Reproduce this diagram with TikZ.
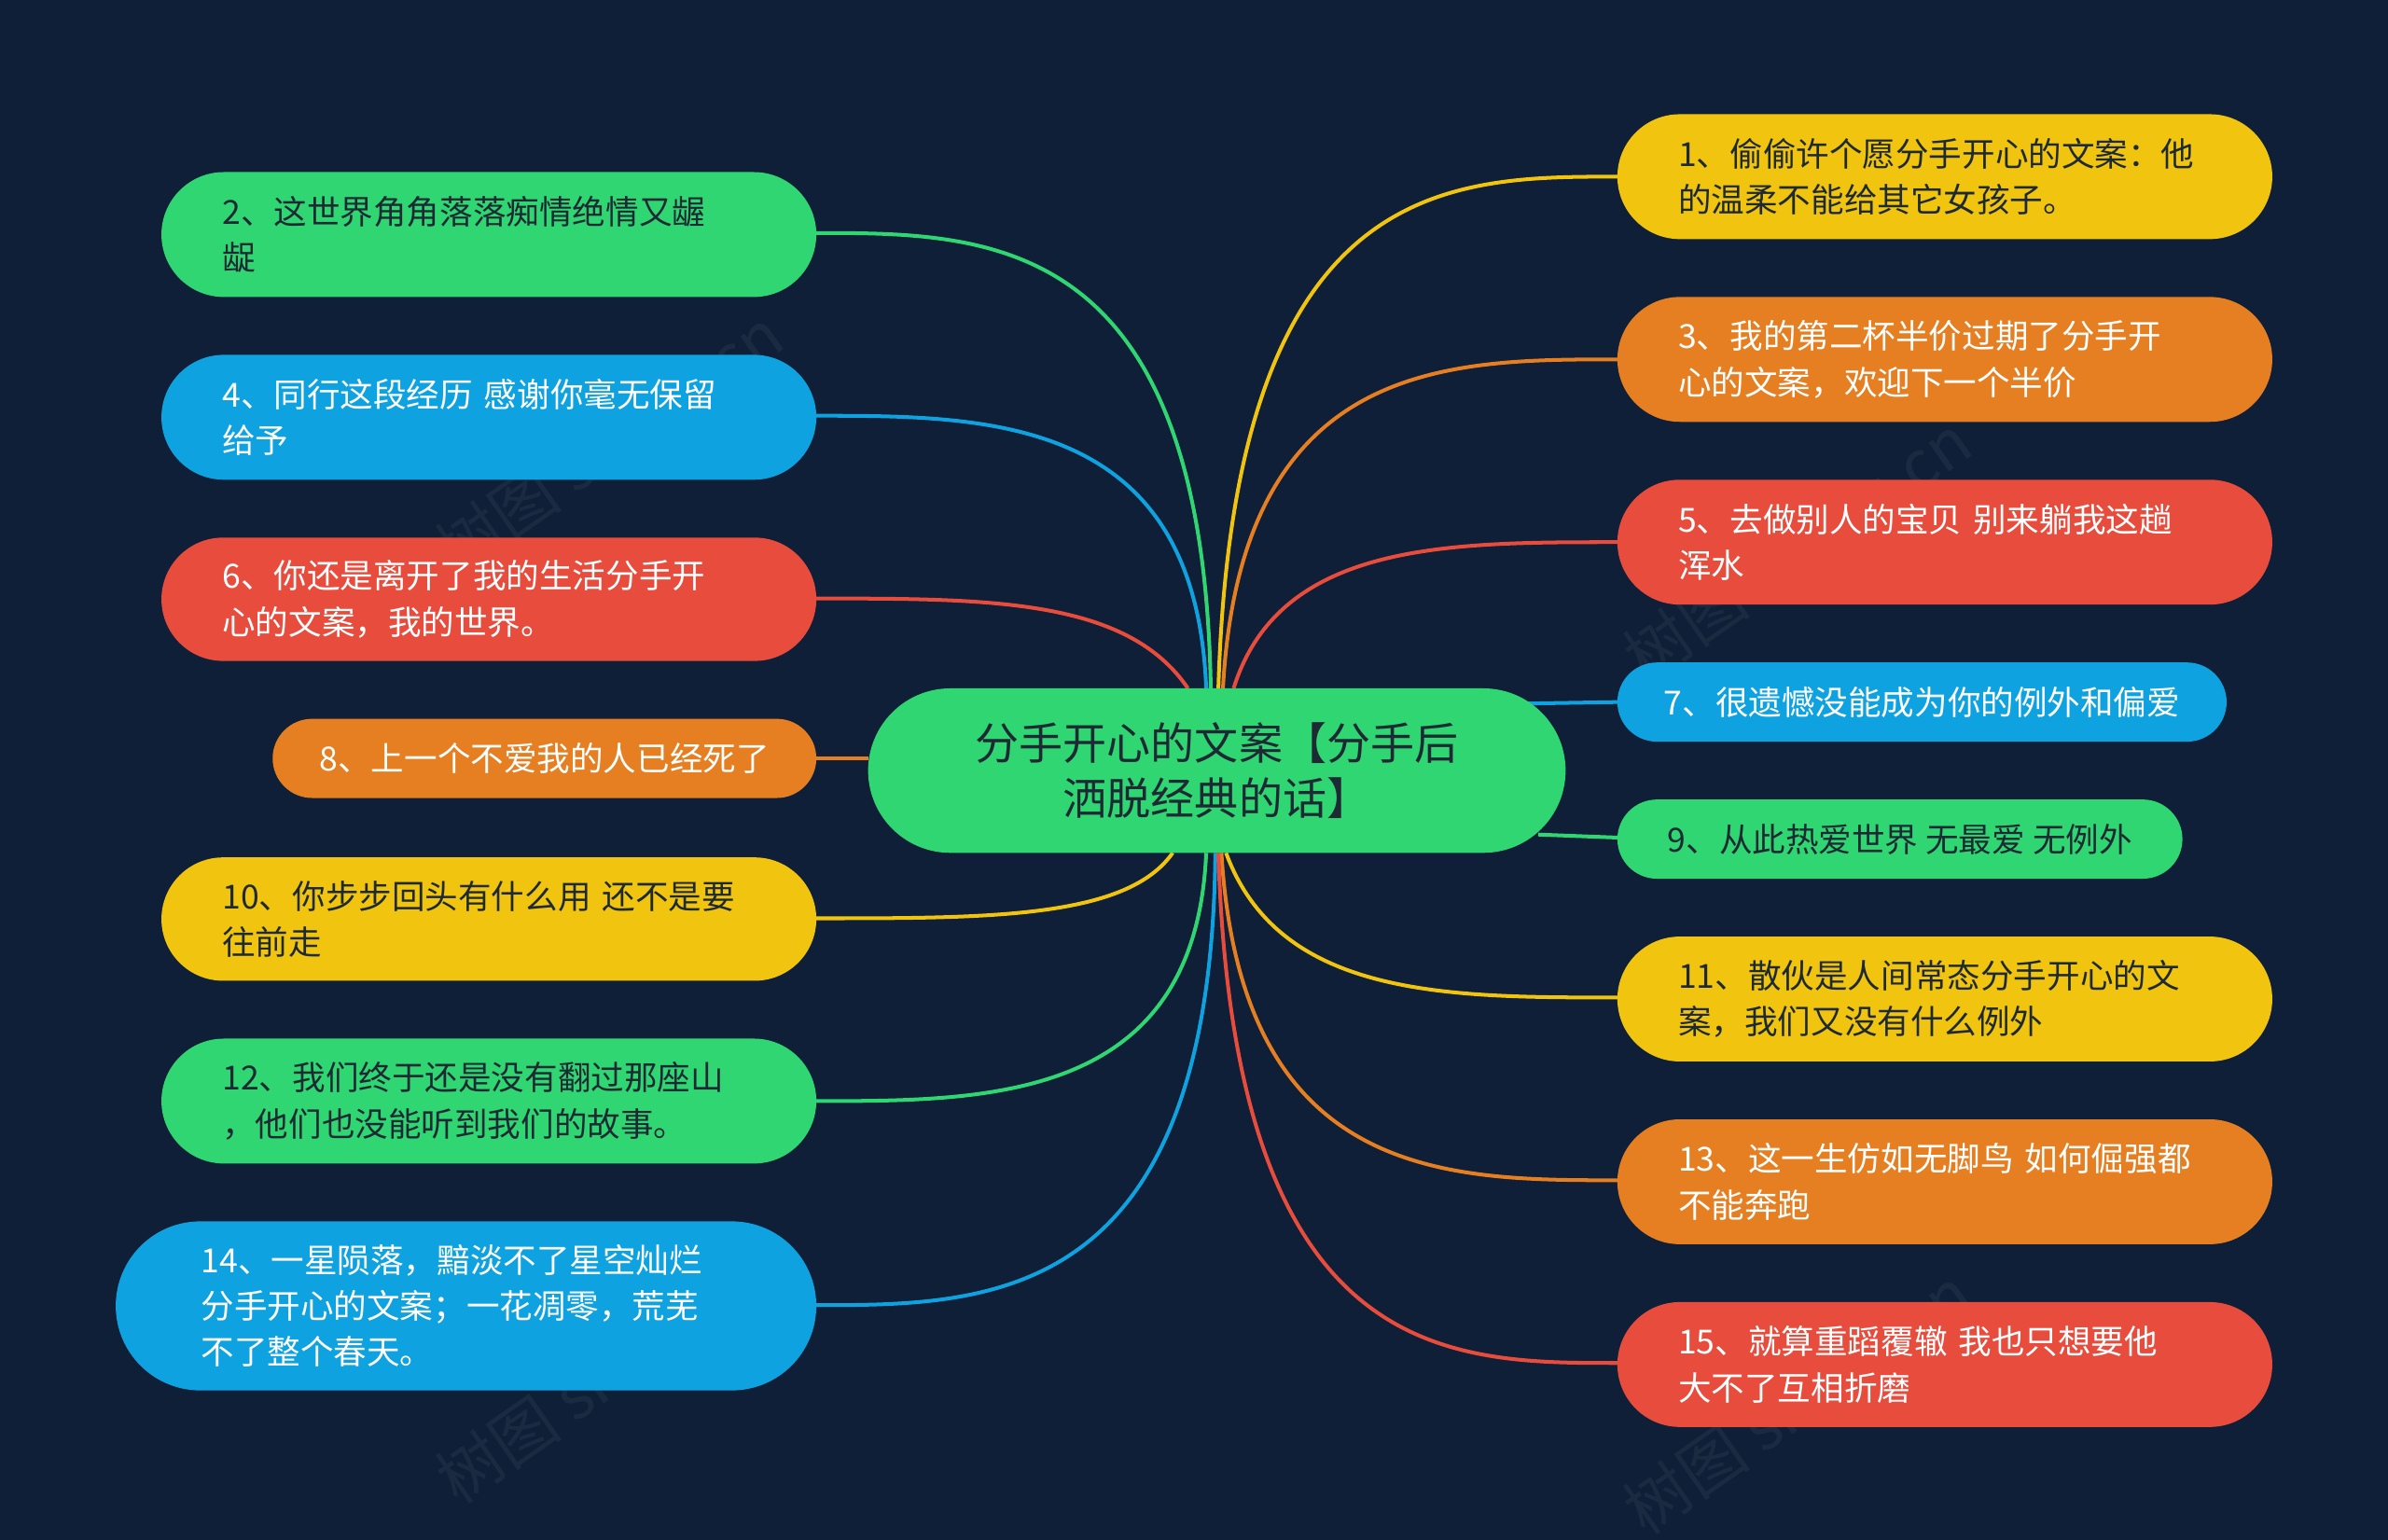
\documentclass[tikz,border=0pt]{standalone}
\usepackage{fontspec}
\setmainfont{Noto Sans CJK SC}
\definecolor{bg}{HTML}{0E1F37}
\definecolor{cg}{HTML}{2FD672}
\definecolor{cb}{HTML}{0EA2E0}
\definecolor{cr}{HTML}{E84C3D}
\definecolor{co}{HTML}{E67E22}
\definecolor{cy}{HTML}{F1C40F}
\definecolor{dk}{HTML}{1E2A33}
\newcommand{\bx}[9]{%
\node[fill=#6,text=#7,rounded corners={(#5-#3)*0.025cm},minimum width={(#4-#2)*0.05cm},minimum height={(#5-#3)*0.05cm},text width={(#4-#2-#9)*0.05cm},align=left,inner sep=0pt,font=\fontsize{31}{43}\selectfont] (#1) at ({(#2+#4)/2},{(#3+#5)/2}) {#8};}
\newcommand{\bxs}[8]{%
\node[fill=#6,text=#7,rounded corners={(#5-#3)*0.025cm},minimum width={(#4-#2)*0.05cm},minimum height={(#5-#3)*0.05cm},align=center,inner sep=0pt,font=\fontsize{31}{43}\selectfont] (#1) at ({(#2+#4)/2},{(#3+#5)/2}) {#8};}
\begin{document}
\begin{tikzpicture}[x=0.05cm,y=-0.05cm,lk/.style={line width=3.5pt}]
\fill[bg] (0,0) rectangle (1568,1011);
\useasboundingbox (0,0) rectangle (1568,1011);
\foreach \a/\b in {400/290,1180/360,400/900,1180/920}
  \node[rotate=35,text=white,opacity=0.05,font=\fontsize{60}{60}\selectfont] at (\a,\b) {树图 shutu.cn};
% connectors
\draw[lk,cg] (795,452) .. controls (790,153) and (650,153) .. (536,153);
\draw[lk,cb] (792,452) .. controls (785,273) and (650,273) .. (536,273);
\draw[lk,cr] (780,452) .. controls (740,393) and (650,393) .. (536,393);
\draw[lk,co] (536,498) -- (570,498);
\draw[lk,cy] (770,560) .. controls (740,603) and (650,603) .. (536,603);
\draw[lk,cg] (792,560) .. controls (785,723) and (650,723) .. (536,723);
\draw[lk,cb] (798,560) .. controls (795,857) and (650,857) .. (536,857);
\draw[lk,cy] (800,452) .. controls (810,116) and (950,116) .. (1062,116);
\draw[lk,co] (803,452) .. controls (815,236) and (950,236) .. (1062,236);
\draw[lk,cr] (810,452) .. controls (840,356) and (950,356) .. (1062,356);
\draw[lk,cb] (1000,462) -- (1062,461);
\draw[lk,cg] (1010,548) -- (1062,550);
\draw[lk,cy] (805,560) .. controls (840,655) and (950,655) .. (1062,655);
\draw[lk,co] (802,560) .. controls (815,775) and (950,775) .. (1062,775);
\draw[lk,cr] (800,560) .. controls (810,895) and (950,895) .. (1062,895);
% center
\node[fill=cg,text=dk,rounded corners=2.7cm,minimum width=22.9cm,minimum height=5.4cm,align=center,font=\fontsize{41}{52}\selectfont] (c) at (799,506) {分手开心的文案【分手后\\洒脱经典的话】};
% nodes
\bx{n2}{106}{113}{536}{195}{cg}{dk}{2、这世界角角落落痴情绝情又龌\\龊}{80}
\bx{n4}{106}{233}{536}{315}{cb}{white}{4、同行这段经历 感谢你毫无保留\\给予}{80}
\bx{n6}{106}{353}{536}{434}{cr}{white}{6、你还是离开了我的生活分手开\\心的文案，我的世界。}{80}
\bxs{n8}{179}{472}{536}{524}{co}{white}{8、上一个不爱我的人已经死了}
\bx{n10}{106}{563}{536}{644}{cy}{dk}{10、你步步回头有什么用 还不是要\\往前走}{80}
\bx{n12}{106}{682}{536}{764}{cg}{dk}{12、我们终于还是没有翻过那座山\\，他们也没能听到我们的故事。}{80}
\bx{n14}{76}{802}{536}{913}{cb}{white}{14、一星陨落，黯淡不了星空灿烂\\分手开心的文案；一花凋零，荒芜\\不了整个春天。}{112}
\bx{n1}{1062}{75}{1492}{157}{cy}{dk}{1、偷偷许个愿分手开心的文案：他\\的温柔不能给其它女孩子。}{80}
\bx{n3}{1062}{195}{1492}{277}{co}{white}{3、我的第二杯半价过期了分手开\\心的文案，欢迎下一个半价}{80}
\bx{n5}{1062}{315}{1492}{397}{cr}{white}{5、去做别人的宝贝 别来躺我这趟\\浑水}{80}
\bxs{n7}{1062}{435}{1462}{487}{cb}{white}{7、很遗憾没能成为你的例外和偏爱}
\bxs{n9}{1062}{525}{1433}{577}{cg}{dk}{9、从此热爱世界 无最爱 无例外}
\bx{n11}{1062}{615}{1492}{697}{cy}{dk}{11、散伙是人间常态分手开心的文\\案，我们又没有什么例外}{80}
\bx{n13}{1062}{735}{1492}{817}{co}{white}{13、这一生仿如无脚鸟 如何倔强都\\不能奔跑}{80}
\bx{n15}{1062}{855}{1492}{937}{cr}{white}{15、就算重蹈覆辙 我也只想要他\\大不了互相折磨}{80}
\end{tikzpicture}
\end{document}
